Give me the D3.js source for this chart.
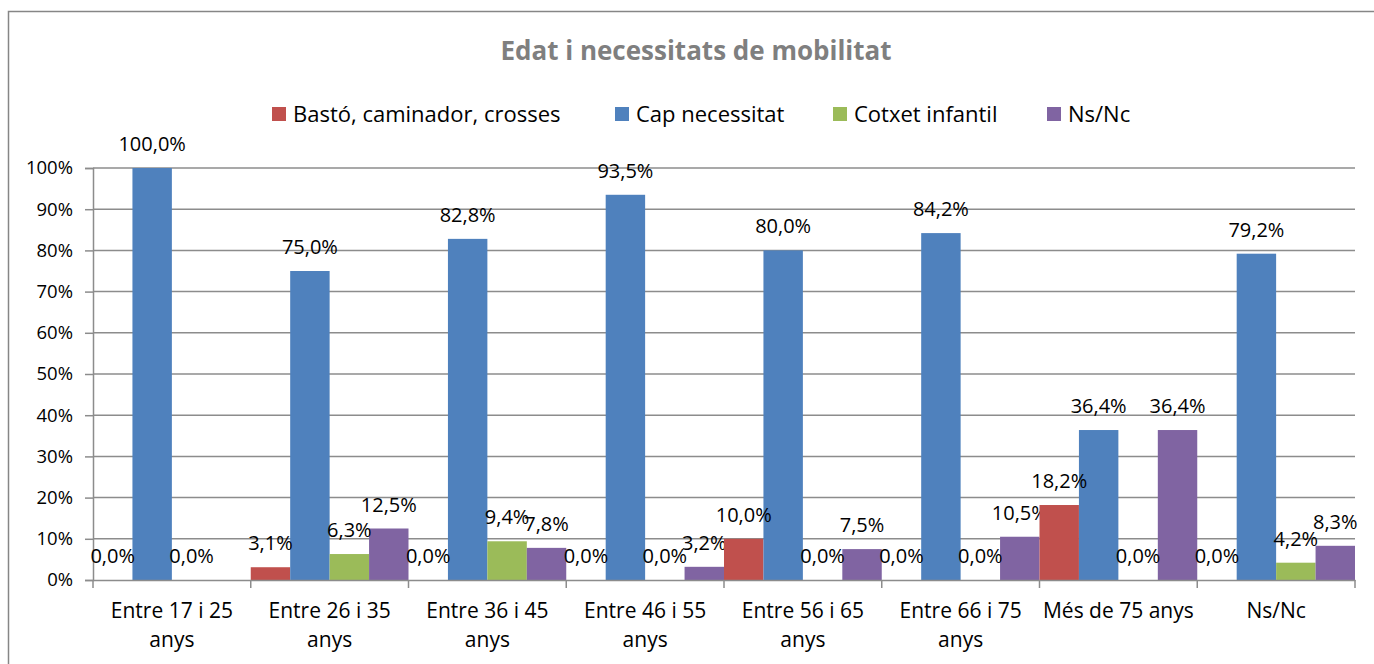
<!DOCTYPE html>
<html>
<head>
<meta charset="utf-8">
<script src="https://cdn.jsdelivr.net/npm/d3@7"></script>
<style>
  body { margin: 0; background: #fff; }
  svg text { font-family: "Open Sans", "Noto Sans", sans-serif; fill: #000; }
</style>
</head>
<body>
<div id="chart"></div>
<script>
// Data
const categories = [
  ['Entre 17 i 25', 'anys'],
  ['Entre 26 i 35', 'anys'],
  ['Entre 36 i 45', 'anys'],
  ['Entre 46 i 55', 'anys'],
  ['Entre 56 i 65', 'anys'],
  ['Entre 66 i 75', 'anys'],
  ['Més de 75 anys'],
  ['Ns/Nc'],
];
const seriesNames = ['Bastó, caminador, crosses', 'Cap necessitat', 'Cotxet infantil', 'Ns/Nc'];
const seriesColors = ['#C0504D', '#4F81BD', '#9BBB59', '#8064A2'];
const basto = [0.0, 3.1, 0.0, 0.0, 10.0, 0.0, 18.2, 0.0];
const capNecessitat = [100.0, 75.0, 82.8, 93.5, 80.0, 84.2, 36.4, 79.2];
const cotxet = [0.0, 6.3, 9.4, 0.0, 0.0, 0.0, 0.0, 4.2];
const nsnc = [null, 12.5, 7.8, 3.2, 7.5, 10.5, 36.4, 8.3];
const yTicks = [0, 10, 20, 30, 40, 50, 60, 70, 80, 90, 100];

const series = [basto, capNecessitat, cotxet, nsnc];

const width = 1374;
const height = 664;
const margin = { top: 168, right: 19, bottom: 84, left: 93 };
const innerW = width - margin.left - margin.right;
const innerH = height - margin.top - margin.bottom;

const svg = d3
  .select('#chart')
  .append('svg')
  .attr('width', width)
  .attr('height', height);

// Outer chart border
svg
  .append('rect')
  .attr('x', 8.5)
  .attr('y', 11.5)
  .attr('width', width + 10)
  .attr('height', height + 10)
  .attr('fill', 'none')
  .attr('stroke', '#868686')
  .attr('stroke-width', 1.5);

// Title
svg
  .append('text')
  .attr('x', 696)
  .attr('y', 60)
  .attr('text-anchor', 'middle')
  .style('font-size', '26px')
  .style('font-weight', 'bold')
  .style('fill', '#7F7F7F')
  .text('Edat i necessitats de mobilitat');

// Legend
const legendX = [272, 615, 833, 1047];
const legend = svg
  .append('g')
  .selectAll('g')
  .data(seriesNames)
  .enter()
  .append('g')
  .attr('transform', (d, i) => `translate(${legendX[i]},107)`);
legend
  .append('rect')
  .attr('width', 14)
  .attr('height', 14)
  .attr('fill', (d, i) => seriesColors[i]);
legend
  .append('text')
  .attr('x', 21)
  .attr('y', 15)
  .style('font-size', '22px')
  .text((d) => d);

const g = svg
  .append('g')
  .attr('transform', `translate(${margin.left},${margin.top})`);

// Scales
const x0 = d3
  .scaleBand()
  .domain(d3.range(categories.length))
  .range([0, innerW])
  .padding(0);
const x1 = d3
  .scaleBand()
  .domain(d3.range(series.length))
  .range([0, x0.bandwidth()])
  .padding(0);
const y = d3.scaleLinear().domain([0, 100]).range([innerH, 0]);

// Gridlines
g.append('g')
  .selectAll('line')
  .data(yTicks.slice(1))
  .enter()
  .append('line')
  .attr('x1', 0)
  .attr('x2', innerW)
  .attr('y1', (d) => y(d))
  .attr('y2', (d) => y(d))
  .attr('stroke', '#8c8c8c')
  .attr('stroke-width', 1.5);

// Y axis
const yAxis = g
  .append('g')
  .call(
    d3
      .axisLeft(y)
      .tickValues(yTicks)
      .tickSize(8)
      .tickPadding(12)
      .tickFormat((d) => d + '%')
  );
yAxis.select('.domain').attr('stroke', '#8c8c8c').attr('stroke-width', 1.5);
yAxis.selectAll('.tick line').attr('stroke', '#8c8c8c').attr('stroke-width', 1.5);
yAxis
  .selectAll('.tick text')
  .style('font-size', '18.5px')
  .style('font-family', '"Open Sans", sans-serif')
  .attr('fill', '#000');

// Bars
const groups = g
  .append('g')
  .selectAll('g')
  .data(categories)
  .enter()
  .append('g')
  .attr('transform', (d, i) => `translate(${x0(i)},0)`);

groups
  .selectAll('rect')
  .data((d, ci) =>
    series.map((s, si) => ({ si, v: s[ci] })).filter((d) => d.v !== null)
  )
  .enter()
  .append('rect')
  .attr('x', (d) => x1(d.si))
  .attr('width', x1.bandwidth())
  .attr('y', (d) => y(d.v))
  .attr('height', (d) => innerH - y(d.v))
  .attr('fill', (d) => seriesColors[d.si]);

// Value labels
groups
  .selectAll('text')
  .data((d, ci) =>
    series.map((s, si) => ({ si, v: s[ci] })).filter((d) => d.v !== null)
  )
  .enter()
  .append('text')
  .attr('x', (d) => x1(d.si) + x1.bandwidth() / 2)
  .attr('y', (d) => y(d.v) - 17)
  .attr('text-anchor', 'middle')
  .style('font-size', '20px')
  .text((d) => d.v.toFixed(1).replace('.', ',') + '%');

// X axis
const xAxis = g
  .append('g')
  .attr('transform', `translate(0,${innerH})`)
  .call(d3.axisBottom(x0).tickValues([]).tickSizeOuter(0));
xAxis.select('.domain').attr('stroke', '#8c8c8c').attr('stroke-width', 1.5);

xAxis
  .selectAll('.sep')
  .data(d3.range(categories.length + 1))
  .enter()
  .append('line')
  .attr('x1', (d) => d * x0.step())
  .attr('x2', (d) => d * x0.step())
  .attr('y1', 0)
  .attr('y2', 8)
  .attr('stroke', '#8c8c8c')
  .attr('stroke-width', 1.5);

const catLabels = xAxis
  .selectAll('.cat')
  .data(categories)
  .enter()
  .append('text')
  .attr('class', 'cat')
  .attr('x', (d, i) => x0(i) + x0.bandwidth() / 2)
  .attr('y', 38)
  .attr('text-anchor', 'middle')
  .style('font-size', '21px')
  .style('font-family', '"Open Sans", sans-serif')
  .attr('fill', '#000');
catLabels
  .selectAll('tspan')
  .data((d) => d)
  .enter()
  .append('tspan')
  .attr('x', function () {
    return d3.select(this.parentNode).attr('x');
  })
  .attr('dy', (d, i) => (i === 0 ? 0 : 29))
  .text((d) => d);
</script>
</body>
</html>
